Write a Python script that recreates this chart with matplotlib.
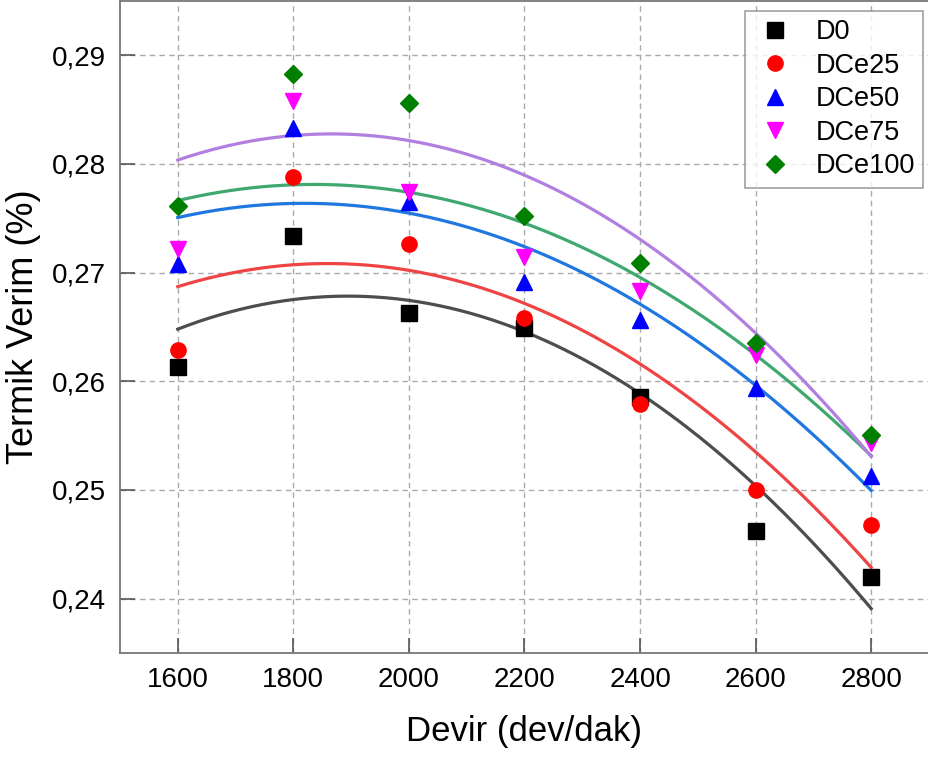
import numpy as np
import matplotlib.pyplot as plt

plt.rcParams['font.family'] = ['Liberation Sans', 'DejaVu Sans']

# Devir (dev/dak)
devir = [1600, 1800, 2000, 2200, 2400, 2600, 2800]

# Termik verim values
d0 = [0.2613, 0.2734, 0.2663, 0.2649, 0.2586, 0.2462, 0.2420]
dce25 = [0.2629, 0.2788, 0.2726, 0.2658, 0.2579, 0.2500, 0.2468]
dce50 = [0.2708, 0.2833, 0.2765, 0.2691, 0.2656, 0.2594, 0.2513]
dce75 = [0.2722, 0.2858, 0.2774, 0.2714, 0.2683, 0.2624, 0.2543]
dce100 = [0.2761, 0.2883, 0.2856, 0.2752, 0.2709, 0.2635, 0.2551]

labels = ["D0", "DCe25", "DCe50", "DCe75", "DCe100"]
series = [d0, dce25, dce50, dce75, dce100]
markers = ["s", "o", "^", "v", "D"]
marker_colors = ["black", "red", "blue", "magenta", "green"]
fit_colors = ["#4d4d4d", "#ee4444", "#1f77e0", "#3ea86e", "#b07fe0"]

fig = plt.figure(figsize=(9.29, 7.57), dpi=100)
ax = fig.add_axes([120 / 929, 1 - 653 / 757, 809 / 929, 652 / 757])

x = np.array(devir, dtype=float)
xs = np.linspace(x.min(), x.max(), 200)

# 2nd order fit curves
for ys, c in zip(series, fit_colors):
    p = np.polyfit(x, ys, 2)
    ax.plot(xs, np.polyval(p, xs), color=c, lw=2.3, zorder=2)

sizes = [11, 11, 12, 12, 9]
for ys, lab, m, c, s in zip(series, labels, markers, marker_colors, sizes):
    ax.plot(devir, ys, linestyle="none", marker=m, color=c, markersize=s,
            label=lab, zorder=3)

ax.set_xlim(1500, 2900)
ax.set_ylim(0.235, 0.295)
ax.set_xticks(devir)
ax.set_yticks([0.24, 0.25, 0.26, 0.27, 0.28, 0.29])
ax.set_yticklabels(["0,24", "0,25", "0,26", "0,27", "0,28", "0,29"])

ax.tick_params(direction="in", length=11, width=1.2, color="#555555",
               labelsize=20, pad=10)
for sp in ax.spines.values():
    sp.set_color("#777777")
    sp.set_linewidth(1.3)

ax.grid(True, linestyle=(0, (4, 3)), color="#aaaaaa", linewidth=1)
ax.set_axisbelow(True)

ax.set_xlabel("Devir (dev/dak)", fontsize=25, labelpad=16)
ax.set_ylabel("Termik Verim (%)", fontsize=26, labelpad=8)

leg = ax.legend(loc="upper right", fontsize=19.5, frameon=True, fancybox=False,
                edgecolor="#888888", borderpad=0.3, labelspacing=0.28,
                handletextpad=0.7, handlelength=1.6, borderaxespad=0,
                bbox_to_anchor=(803 / 809, 1 - 10 / 652))
leg.get_frame().set_linewidth(1.2)

fig.savefig("out.png", dpi=100)
